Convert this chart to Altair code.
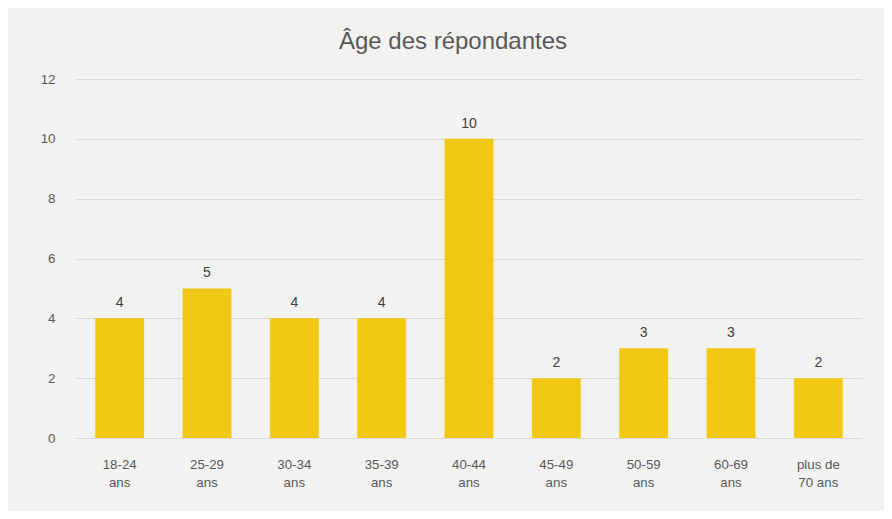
import altair as alt
import pandas as pd

categories = ["18-24|ans", "25-29|ans", "30-34|ans", "35-39|ans", "40-44|ans",
              "45-49|ans", "50-59|ans", "60-69|ans", "plus de|70 ans"]
values = [4, 5, 4, 4, 10, 2, 3, 3, 2]

df = pd.DataFrame({"cat": categories, "val": values})

base = alt.Chart(df).encode(
    x=alt.X("cat:N", sort=categories, title=None,
            scale=alt.Scale(paddingInner=0.44, paddingOuter=0.22),
            axis=alt.Axis(labelExpr="split(datum.value, '|')", labelAngle=0,
                          labelFontSize=13.3, labelColor="#595959", labelLineHeight=18,
                          labelPadding=19, domain=False, ticks=False, labelFont="Liberation Sans")),
    y=alt.Y("val:Q", title=None,
            scale=alt.Scale(domain=[0, 12]),
            axis=alt.Axis(values=[0, 2, 4, 6, 8, 10, 12], labelFontSize=13.3, labelColor="#595959",
                          labelPadding=21, domain=False, ticks=False, gridColor="#d9d9d9",
                          labelFont="Liberation Sans")),
)

bars = base.mark_bar(color="#f1c814")
labels = base.mark_text(dy=-15, fontSize=14, color="#404040", font="Liberation Sans").encode(
    text="val:Q")

chart = (bars + labels).properties(
    width=786, height=359,
    autosize=alt.AutoSizeParams(type="none"),
    padding={"left": 68, "top": 71, "right": 22, "bottom": 73},
    title=alt.TitleParams("Âge des répondantes", fontSize=24, fontWeight="normal",
                          color="#595959", font="Liberation Sans", offset=18, dx=-16),
    background="#f2f2f1",
).configure_view(stroke=None)

chart.save("out.html", embed_options={"renderer": "svg", "actions": False})
